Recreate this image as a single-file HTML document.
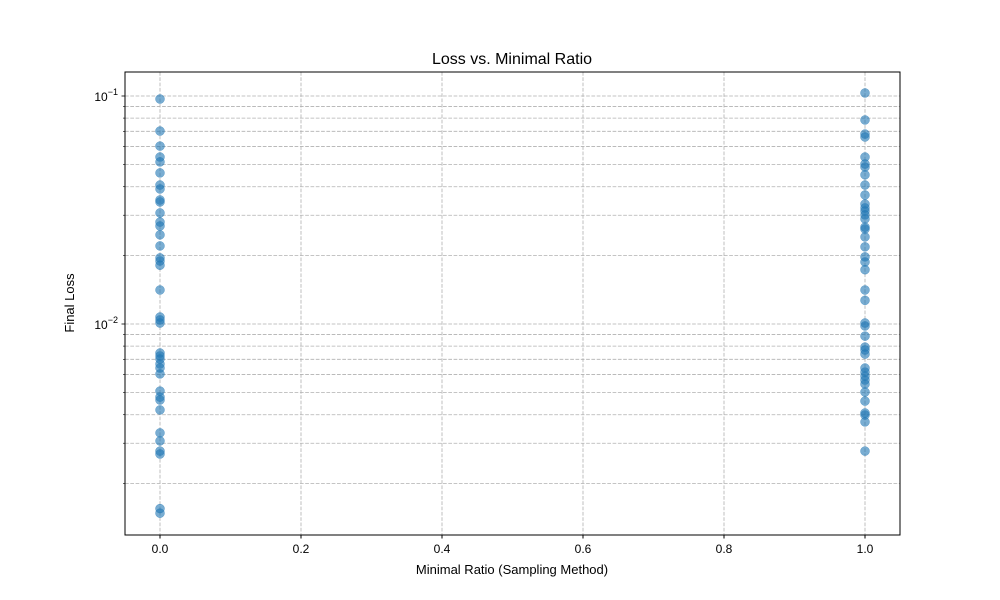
<!DOCTYPE html>
<html><head><meta charset="utf-8"><style>body{margin:0;background:#fff}svg{display:block;font-family:"Liberation Sans","DejaVu Sans",sans-serif}</style></head>
<body>
<svg id="chart" width="1000" height="600" xmlns="http://www.w3.org/2000/svg">
<rect width="1000" height="600" fill="#fff"/>
<g id="grid"></g><g id="axes"></g><g id="points"></g>
<rect x="125" y="72" width="775" height="463" fill="none" stroke="#000" stroke-width="1"/>
<text x="512" y="64" font-size="16" text-anchor="middle">Loss vs. Minimal Ratio</text>
<text x="512" y="574" font-size="13" text-anchor="middle">Minimal Ratio (Sampling Method)</text>
<text transform="translate(74,303) rotate(-90)" font-size="13" text-anchor="middle">Final Loss</text>
</svg>
<script>
const xTicks=[0,0.2,0.4,0.6,0.8,1.0];
const xTickLabels=["0.0","0.2","0.4","0.6","0.8","1.0"];
const groupX=[0,1];
const lossAt0=[0.097,0.0702,0.0603,0.054,0.0514,0.046,0.0407,0.0391,0.035,0.0343,0.0307,0.028,0.0269,0.0246,0.022,0.0195,0.0189,0.0181,0.0141,0.01073,0.01042,0.0101,0.00746,0.00724,0.00702,0.00668,0.00641,0.00604,0.00508,0.00478,0.00464,0.0042,0.00333,0.00307,0.00277,0.00269,0.00155,0.00148];
const lossAt1=[0.1031,0.0785,0.0681,0.0661,0.054,0.0503,0.0488,0.0451,0.0407,0.0368,0.0336,0.0323,0.0313,0.0301,0.0289,0.0266,0.0261,0.0241,0.0218,0.0197,0.0187,0.0173,0.0141,0.0127,0.0101,0.0098,0.00885,0.00792,0.00769,0.00738,0.00641,0.00615,0.00591,0.00568,0.00545,0.00503,0.00459,0.00407,0.00399,0.00372,0.00277];
const NS="http://www.w3.org/2000/svg";
const xs=v=>160+(v-0)*705;
const ys=v=>324-(Math.log10(v)+2)*228;
function mk(tag,attrs,parent){const e=document.createElementNS(NS,tag);for(const k in attrs)e.setAttribute(k,attrs[k]);document.getElementById(parent).appendChild(e);return e;}
// x grid + ticks
xTicks.forEach((t,i)=>{const x=xs(t);
 const g=mk('line',{x1:x,x2:x,y1:72,y2:535,stroke:'#b0b0b0','stroke-dasharray':'3.7,1.6','stroke-width':0.8},'grid');
 
 
 const tk=mk('line',{x1:x,x2:x,y1:535,y2:538.5,stroke:'#000'},'axes');
 
 
 const tl=mk('text',{x:x,y:553,'font-size':12,'text-anchor':'middle'},'axes');tl.textContent=xTickLabels[i];
 
 
});
// y grid (major + minor)
for(let e=-3;e<=-1;e++){for(let m=1;m<=9;m++){const v=m*Math.pow(10,e);const y=ys(v);if(y<72||y>535)continue;
 const g=mk('line',{x1:125,x2:900,y1:y,y2:y,stroke:'#b0b0b0','stroke-dasharray':'3.7,1.6','stroke-width':0.8},'grid');
 
 
 const tk=mk('line',{x1:m===1?121.5:123,x2:125,y1:y,y2:y,stroke:'#000','stroke-width':m===1?0.8:0.6},'axes');
 
 
 if(m===1){const tl=mk('text',{x:118,y:y+5,'font-size':12,'text-anchor':'end'},'axes');
  tl.innerHTML='10<tspan dy="-6" font-size="9">−'+(-e)+'</tspan>';
  
  }
}}
[[groupX[0],lossAt0],[groupX[1],lossAt1]].forEach(([gx,arr])=>arr.forEach(v=>{
 const c=mk('circle',{cx:xs(gx),cy:ys(v),r:4.5,fill:'#1f77b4','fill-opacity':0.6,stroke:'#1f77b4','stroke-opacity':0.6,'stroke-width':0.5},'points');
 
 
}));
</script>
</body></html>
